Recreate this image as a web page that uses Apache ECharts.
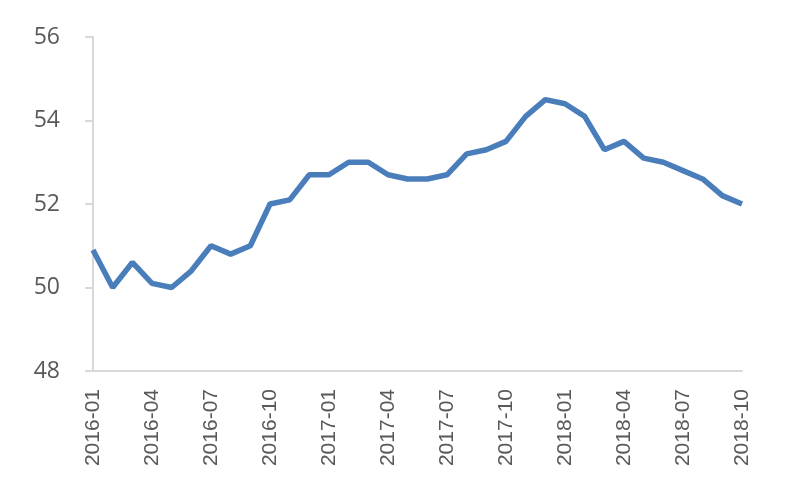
<!DOCTYPE html>
<html><head><meta charset="utf-8">
<script src="https://cdn.jsdelivr.net/npm/echarts@6/dist/echarts.min.js"></script>
<style>html,body{margin:0;padding:0;background:#fff}#c{width:800px;height:500px}</style>
</head><body><div id="c"></div>
<script>
const categories = ['2016-01','2016-02','2016-03','2016-04','2016-05','2016-06','2016-07','2016-08','2016-09','2016-10','2016-11','2016-12',
'2017-01','2017-02','2017-03','2017-04','2017-05','2017-06','2017-07','2017-08','2017-09','2017-10','2017-11','2017-12',
'2018-01','2018-02','2018-03','2018-04','2018-05','2018-06','2018-07','2018-08','2018-09','2018-10'];
const values = [50.9,50.0,50.6,50.1,50.0,50.4,51.0,50.8,51.0,52.0,52.1,52.7,
52.7,53.0,53.0,52.7,52.6,52.6,52.7,53.2,53.3,53.5,54.1,54.5,
54.4,54.1,53.3,53.5,53.1,53.0,52.8,52.6,52.2,52.0];
const yMin = 48, yMax = 56, yStep = 2;
const chart = echarts.init(document.getElementById('c'));
chart.setOption({
  animation:false,
  grid:{left:93,right:58,top:37,bottom:129},
  xAxis:{type:'category',data:categories,boundaryGap:false,
    axisLine:{lineStyle:{color:'#d9d9d9',width:2}},
    axisTick:{show:false},
    axisLabel:{interval:2,rotate:90,margin:18,color:'#595959',fontSize:21,fontFamily:'Liberation Sans'}},
  yAxis:{type:'value',min:yMin,max:yMax,interval:yStep,
    splitLine:{show:false},
    axisLine:{show:true,lineStyle:{color:'#d9d9d9',width:2}},
    axisTick:{show:true,length:8,lineStyle:{color:'#d9d9d9',width:2}},
    axisLabel:{margin:33,color:'#595959',fontSize:23,fontFamily:'Open Sans'}},
  series:[{type:'line',data:values,showSymbol:false,symbol:'none',
    lineStyle:{color:'#4a7ebb',width:5.5}}]
});
</script></body></html>
